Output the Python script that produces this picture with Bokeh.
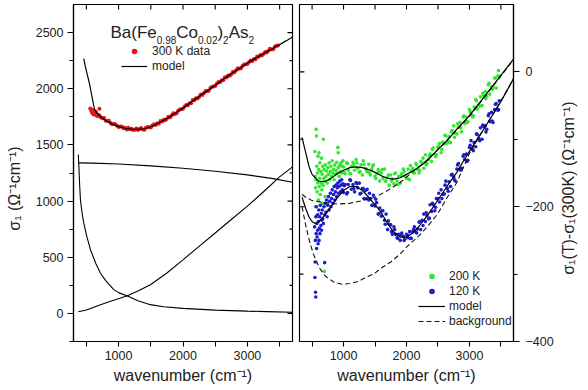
import math

from bokeh.core.properties import value
from bokeh.embed import file_html
from bokeh.layouts import row
from bokeh.models import ColumnDataSource, FixedTicker, Legend, LegendItem, Range1d
from bokeh.plotting import figure
from bokeh.resources import INLINE

FONT = "Liberation Sans"
INK = "#222222"
NBSP = "\u00a0"

# ---------------------------------------------------------------- data
# left panel: 300 K optical conductivity (cm^-1, Ohm^-1 cm^-1)
data300 = [
    (560, 1825), (575, 1805), (588, 1812), (590, 1785), (600, 1803), (612, 1770), (625, 1782),
    (640, 1800), (650, 1789), (660, 1760), (675, 1768), (685, 1755), (700, 1765), (703, 1822),
    (725, 1743), (750, 1737), (775, 1739), (800, 1716), (825, 1716), (850, 1716), (875, 1695),
    (900, 1683), (925, 1689), (950, 1684), (975, 1671), (1000, 1659), (1025, 1665), (1050, 1664),
    (1075, 1648), (1100, 1652), (1125, 1638), (1150, 1652), (1175, 1639), (1200, 1645), (1225, 1632),
    (1250, 1635), (1275, 1646), (1300, 1632), (1325, 1641), (1350, 1650), (1375, 1638), (1400, 1636),
    (1425, 1653), (1450, 1659), (1475, 1657), (1500, 1656), (1525, 1673), (1550, 1683), (1575, 1677),
    (1600, 1692), (1625, 1688), (1650, 1713), (1675, 1709), (1700, 1724), (1725, 1720), (1750, 1732),
    (1775, 1751), (1800, 1746), (1825, 1763), (1850, 1781), (1875, 1776), (1900, 1781), (1925, 1804),
    (1950, 1816), (1975, 1818), (2000, 1821), (2025, 1842), (2050, 1856), (2075, 1854), (2100, 1872),
    (2125, 1871), (2150, 1899), (2175, 1898), (2200, 1915), (2225, 1913), (2250, 1927), (2275, 1948),
    (2300, 1945), (2325, 1963), (2350, 1981), (2375, 1977), (2400, 1983), (2425, 2006), (2450, 2018),
    (2475, 2021), (2500, 2024), (2525, 2045), (2550, 2059), (2575, 2057), (2600, 2076), (2625, 2075),
    (2650, 2102), (2675, 2101), (2700, 2118), (2725, 2116), (2750, 2130), (2775, 2151), (2800, 2147),
    (2825, 2164), (2850, 2182), (2875, 2178), (2900, 2183), (2925, 2205), (2950, 2216), (2975, 2218),
    (3000, 2220), (3025, 2239), (3050, 2252), (3075, 2248), (3100, 2265), (3125, 2262), (3150, 2288),
    (3175, 2285), (3200, 2301), (3225, 2297), (3250, 2309), (3275, 2328), (3300, 2323), (3325, 2339),
    (3350, 2355), (3375, 2349), (3400, 2352), (3425, 2373), (3450, 2383), (3475, 2384),
]
model300 = [
    (460, 2268), (480, 2205), (500, 2160), (525, 2100), (548, 2046), (570, 1980), (590, 1920),
    (610, 1862), (626, 1818), (650, 1793), (680, 1772), (729, 1749), (800, 1718), (900, 1686),
    (1000, 1663), (1100, 1648), (1200, 1640), (1300, 1638), (1400, 1644), (1500, 1662), (1600, 1689),
    (1700, 1719), (1800, 1752), (1900, 1790), (2000, 1829), (2200, 1910), (2400, 1992), (2600, 2073),
    (2800, 2153), (3000, 2228), (3200, 2296), (3400, 2361), (3600, 2426), (3700, 2460),
]
# model components
comp_flat = [(380, 1340), (600, 1338), (1000, 1330), (1500, 1313), (2000, 1292), (2500, 1265),
             (3000, 1233), (3400, 1200), (3700, 1168)]
comp_decay = [(375, 1415), (385, 1290), (395, 1150), (408, 1009), (425, 930), (440, 868), (460, 803),
              (500, 700), (564, 565), (650, 440), (719, 358), (800, 292), (925, 212), (1000, 185),
              (1137, 155), (1300, 112), (1494, 78), (1700, 60), (2000, 45), (2500, 29), (3000, 20),
              (3300, 16), (3700, 11)]
comp_rise = [(375, 15), (500, 30), (719, 77), (900, 112), (1137, 157), (1300, 200), (1494, 255),
             (1750, 360), (2000, 477), (2250, 597), (2500, 716), (2750, 836), (3000, 955),
             (3250, 1083), (3500, 1215), (3700, 1305)]

# right panel: sigma_1(T) - sigma_1(300 K)
data200 = [
    (545, -118), (550, -155), (553, -200), (555, -172), (560, -160), (565, -85), (570, -95), (572, -215),
    (575, -140), (580, -178), (585, -150), (590, -165), (595, -125), (600, -190), (605, -145), (610, -120),
    (615, -170), (620, -158), (625, -135), (630, -182), (640, -148), (645, -165), (650, -128), (655, -175),
    (660, -152), (665, -195), (670, -140), (675, -168), (680, -100), (685, -158), (690, -145), (695, -296),
    (700, -162), (705, -185), (710, -138), (720, -155), (730, -147), (740, -165), (750, -142), (760, -152),
    (770, -135), (780, -160), (790, -148), (800, -140), (810, -155), (820, -132), (830, -150), (840, -145),
    (850, -160), (860, -138), (870, -152), (880, -146), (890, -134), (900, -150), (910, -112), (915, -120),
    (920, -142), (930, -155), (940, -138), (950, -148), (960, -135), (970, -150), (980, -140), (990, -132),
    (1000, -141), (1025, -151), (1050, -135), (1075, -146), (1100, -151), (1125, -140), (1150, -134),
    (1175, -146), (1200, -130), (1225, -143), (1250, -149), (1275, -138), (1300, -153), (1325, -137),
    (1350, -143), (1375, -148), (1400, -137), (1425, -153), (1450, -144), (1475, -138), (1500, -155),
    (1525, -151), (1550, -145), (1575, -162), (1600, -150), (1625, -158), (1650, -144), (1675, -162),
    (1700, -156), (1725, -168), (1750, -153), (1775, -159), (1800, -166), (1825, -150), (1850, -162),
    (1875, -155), (1900, -165), (1925, -151), (1950, -144), (1975, -155), (2000, -158), (2025, -144),
    (2050, -160), (2075, -147), (2100, -143), (2125, -150), (2150, -136), (2175, -145), (2200, -150),
    (2225, -133), (2250, -135), (2275, -143), (2300, -123), (2325, -136), (2350, -130), (2375, -122),
    (2400, -133), (2425, -113), (2450, -122), (2475, -123), (2500, -112), (2525, -106), (2550, -120),
    (2575, -104), (2600, -107), (2625, -95), (2650, -106), (2675, -96), (2700, -105), (2725, -87),
    (2750, -80), (2775, -91), (2800, -92), (2825, -82), (2850, -75), (2875, -89), (2900, -67),
    (2925, -77), (2950, -67), (2975, -74), (3000, -56), (3025, -62), (3050, -67), (3075, -52),
    (3100, -41), (3125, -55), (3150, -49), (3175, -37), (3200, -50), (3225, -35), (3250, -29),
    (3275, -36), (3300, -19), (3325, -33), (3350, -22), (3375, -23), (3400, -9), (3425, -24),
    (3450, -6), (3475, -6),
    (1012, -149), (1062, -136), (1112, -151), (1162, -138), (1212, -135), (1262, -148), (1312, -132),
    (1362, -146), (1412, -150), (1462, -140), (1512, -158), (1562, -148), (1612, -145), (1662, -162),
    (1712, -153), (1762, -162), (1812, -151), (1862, -167), (1912, -154), (1962, -148), (2012, -158),
    (2062, -139), (2112, -150), (2162, -138), (2212, -146), (2262, -128), (2312, -138), (2362, -125),
    (2412, -115), (2462, -126), (2512, -110), (2562, -115), (2612, -94), (2662, -103), (2712, -89),
    (2762, -97), (2812, -77), (2862, -83), (2912, -65), (2962, -75), (3012, -59), (3062, -65),
    (3112, -43), (3162, -51), (3212, -32), (3262, -40), (3312, -17), (3362, -26), (3412, -9), (3462, 2),
]
data120 = [
    (540, -230), (545, -305), (548, -282), (552, -250), (555, -327), (558, -334), (560, -215), (565, -240),
    (568, -200), (572, -262), (575, -225), (580, -245), (585, -212), (590, -235), (595, -255), (600, -222),
    (605, -205), (610, -250), (615, -232), (620, -215), (625, -240), (630, -198), (640, -228), (645, -210),
    (650, -235), (655, -220), (660, -205), (670, -218), (680, -225), (690, -200), (700, -283), (702, -212),
    (710, -195), (720, -208), (730, -190), (740, -215), (750, -198), (760, -185), (770, -205), (780, -192),
    (790, -180), (800, -200), (810, -188), (820, -175), (830, -195), (840, -182), (850, -170), (860, -190),
    (870, -178), (880, -168), (890, -185), (900, -172), (910, -165), (920, -180), (930, -170), (940, -162),
    (950, -178), (960, -168), (970, -160), (980, -175), (990, -166),
    (1000, -179), (1025, -167), (1050, -181), (1075, -167), (1100, -160), (1125, -174), (1150, -167),
    (1175, -178), (1200, -164), (1225, -172), (1250, -165), (1275, -180), (1300, -173), (1325, -188),
    (1350, -176), (1375, -174), (1400, -190), (1425, -188), (1450, -198), (1475, -183), (1500, -199),
    (1525, -194), (1550, -211), (1575, -202), (1600, -214), (1625, -206), (1650, -220), (1675, -211),
    (1700, -234), (1725, -226), (1750, -227), (1775, -241), (1800, -230), (1825, -241), (1850, -246),
    (1875, -241), (1900, -250), (1925, -239), (1950, -244), (1975, -248), (2000, -241), (2025, -246),
    (2050, -237), (2075, -247), (2100, -237), (2125, -230), (2150, -238), (2175, -233), (2200, -223),
    (2225, -234), (2250, -220), (2275, -211), (2300, -222), (2325, -213), (2350, -218), (2375, -197),
    (2400, -207), (2425, -197), (2450, -206), (2475, -188), (2500, -188), (2525, -193), (2550, -175),
    (2575, -182), (2600, -181), (2625, -162), (2650, -173), (2675, -163), (2700, -170), (2725, -152),
    (2750, -156), (2775, -162), (2800, -144), (2825, -136), (2850, -144), (2875, -143), (2900, -125),
    (2925, -130), (2950, -122), (2975, -131), (3000, -112), (3025, -102), (3050, -115), (3075, -105),
    (3100, -111), (3125, -93), (3150, -99), (3175, -83), (3200, -100), (3225, -81), (3250, -80),
    (3275, -85), (3300, -65), (3325, -74), (3350, -60), (3375, -75), (3400, -56), (3425, -47),
    (3450, -57), (3475, -43),
    (1012, -169), (1062, -179), (1112, -161), (1162, -173), (1212, -166), (1262, -181), (1312, -173),
    (1362, -188), (1412, -180), (1462, -198), (1512, -189), (1562, -210), (1612, -206), (1662, -226),
    (1712, -221), (1762, -237), (1812, -234), (1862, -247), (1912, -242), (1962, -250), (2012, -242),
    (2062, -247), (2112, -234), (2162, -239), (2212, -222), (2262, -228), (2312, -209), (2362, -217),
    (2412, -195), (2462, -201), (2512, -180), (2562, -188), (2612, -168), (2662, -177), (2712, -153),
    (2762, -160), (2812, -138), (2862, -146), (2912, -123), (2962, -133), (3012, -109), (3062, -117),
    (3112, -92), (3162, -102), (3212, -79), (3262, -89), (3312, -62), (3362, -73), (3412, -48), (3462, -56),
]
model200 = [(340, -97), (400, -120), (450, -140), (500, -152), (600, -162), (700, -163), (800, -158),
            (900, -151), (1000, -146), (1100, -142), (1200, -141), (1300, -142), (1400, -145),
            (1500, -149), (1600, -154), (1700, -158), (1800, -159), (1900, -157), (2000, -152),
            (2100, -147), (2200, -141), (2300, -134), (2400, -125), (2500, -115), (2600, -106),
            (2700, -96), (2800, -85), (2900, -75), (3000, -65), (3100, -53), (3200, -41), (3300, -29),
            (3400, -17), (3500, -5), (3600, 7), (3700, 19)]
model120 = [(340, -186), (400, -203), (450, -215), (500, -222), (550, -225), (600, -223), (700, -213),
            (800, -200), (900, -187), (1000, -176), (1100, -170), (1200, -170), (1300, -176),
            (1400, -186), (1500, -197), (1600, -209), (1700, -225), (1800, -238), (1900, -245),
            (2000, -245), (2100, -239), (2200, -229), (2300, -217), (2400, -204), (2500, -190),
            (2600, -176), (2700, -162), (2800, -149), (2900, -133), (3000, -118), (3100, -103),
            (3200, -89), (3300, -74), (3400, -59), (3500, -44), (3600, -27), (3700, -10)]
background200 = [(340, -182), (400, -186), (500, -191), (700, -194), (900, -196), (1100, -195),
                 (1300, -191), (1500, -186), (1700, -176), (1900, -164), (2100, -148), (2300, -133),
                 (2500, -115), (2750, -91), (3000, -66), (3250, -36), (3500, -6), (3700, 18)]
background120 = [(340, -200), (400, -228), (455, -250), (520, -270), (611, -290), (700, -302),
                 (767, -307), (850, -312), (973, -315), (1100, -314), (1233, -311), (1350, -305),
                 (1493, -299), (1600, -291), (1751, -282), (1900, -270), (2011, -259), (2200, -243),
                 (2337, -229), (2500, -210), (2648, -186), (2800, -164), (3000, -121), (3200, -89),
                 (3400, -59), (3600, -27), (3700, -10)]

x_ticks = [1000, 2000, 3000]
x_minor = [500, 1500, 2500, 3500]
left_y_ticks = [0, 500, 1000, 1500, 2000, 2500]
left_y_minor = [-250, 250, 750, 1250, 1750, 2250]
right_y_ticks = [-400, -200, 0]
right_y_minor = [-300, -100]

title_parts = ["Ba(Fe", "0.98", "Co", "0.02", ")", "2", "As", "2"]
title_is_sub = [False, True, False, True, False, True, False, True]

RED = "#e2171c"
GREEN = "#30e630"
BLUE = "#1d1dce"

FRAME_W, FRAME_H = 219, 337


def xs(pts):
    return [p[0] for p in pts]


def ys(pts):
    return [p[1] for p in pts]


def style_axis(ax, out, minor_out):
    ax.axis_line_color = "black"
    ax.axis_line_width = 1.2
    ax.major_tick_line_color = "black"
    ax.minor_tick_line_color = "black"
    ax.major_tick_line_width = 1.1
    ax.minor_tick_line_width = 1.1
    ax.major_tick_out = out
    ax.major_tick_in = 0
    ax.minor_tick_out = minor_out
    ax.minor_tick_in = 0
    ax.major_label_text_font = FONT
    ax.major_label_text_color = INK
    ax.major_label_text_font_size = "12.5px"
    ax.major_label_standoff = 4
    ax.axis_label_text_font = FONT
    ax.axis_label_text_font_style = "normal"
    ax.axis_label_text_color = INK
    ax.axis_label_text_font_size = "16px"


def make_fig(y_range, y_side, left_b, right_b, width):
    p = figure(width=width, height=390, x_range=Range1d(300, 3700), y_range=y_range,
               y_axis_location=y_side, output_backend="svg", toolbar_location=None,
               min_border_left=left_b, min_border_right=right_b, min_border_top=4,
               min_border_bottom=49)
    p.xgrid.visible = False
    p.ygrid.visible = False
    p.outline_line_color = "black"
    p.outline_line_width = 1.2
    p.background_fill_color = "white"
    p.border_fill_color = "white"
    return p


def inner_x_ticks(p, ticks, length_px):
    """Short inward ticks hanging from the top edge of the frame."""
    top = p.y_range.end
    dy = (p.y_range.end - p.y_range.start) / FRAME_H * length_px
    p.segment(x0=ticks, y0=[top] * len(ticks), x1=ticks, y1=[top - dy] * len(ticks),
              line_color="black", line_width=1.1)


def inner_y_ticks(p, ticks, length_px, side):
    """Short inward ticks on the frame edge opposite to the labelled y axis."""
    dx = (p.x_range.end - p.x_range.start) / FRAME_W * length_px
    if side == "right":
        x0, x1 = p.x_range.end, p.x_range.end - dx
    else:
        x0, x1 = p.x_range.start, p.x_range.start + dx
    p.segment(x0=[x0] * len(ticks), y0=ticks, x1=[x1] * len(ticks), y1=ticks,
              line_color="black", line_width=1.1)


def legend(items, loc, gw, standoff):
    return Legend(items=items, location=loc, padding=0, margin=0, spacing=1,
                  glyph_width=gw, glyph_height=14, label_height=14, label_standoff=standoff,
                  label_text_font=FONT, label_text_font_size="12px", label_text_color=INK,
                  background_fill_alpha=0, border_line_alpha=0)


# ---------------------------------------------------------------- left panel
left = make_fig(Range1d(-250, 2750), "left", 73, 3, 295)
bx = left.xaxis[0]
bx.ticker = FixedTicker(ticks=x_ticks, minor_ticks=x_minor)
bx.axis_label = "wavenumber (cm⁻¹)"
bx.axis_label_standoff = 4
style_axis(bx, 5, 5)
ly = left.yaxis[0]
ly.ticker = FixedTicker(ticks=left_y_ticks, minor_ticks=left_y_minor)
ly.axis_label = "σ₁ (Ω⁻¹cm⁻¹)" + NBSP * 7
ly.axis_label_standoff = 10
style_axis(ly, 6, 4)

inner_x_ticks(left, x_ticks + x_minor, 5)
inner_y_ticks(left, left_y_ticks, 5, "right")
inner_y_ticks(left, left_y_minor, 3, "right")

for comp in (comp_flat, comp_decay, comp_rise):
    left.line(xs(comp), ys(comp), line_color="black", line_width=1.1)
r_red = left.scatter(xs(data300), ys(data300), marker="circle", size=4,
                     fill_color=RED, line_color=None)
r_model300 = left.line(xs(model300), ys(model300), line_color="black", line_width=1.2)

# compound title with subscripts, laid out with Arial advance widths
adv = {"B": 667, "a": 556, "(": 333, "F": 611, "e": 556, "C": 722, "o": 556, ")": 333,
       "A": 667, "s": 500, ".": 278}
main_px, sub_px = 17, 10
x_off, offsets, sizes, y_offs = 37.0, [], [], []
for part, sub in zip(title_parts, title_is_sub):
    fs = sub_px if sub else main_px
    offsets.append(x_off)
    sizes.append(f"{fs}px")
    y_offs.append(35 if sub else 28)
    x_off += sum(adv.get(ch, 556) for ch in part) / 1000.0 * fs
title_src = ColumnDataSource(dict(x=[left.x_range.start] * len(title_parts),
                                  y=[left.y_range.end] * len(title_parts),
                                  text=title_parts, xo=offsets, yo=y_offs, fs=sizes))
left.text(x="x", y="y", text="text", x_offset="xo", y_offset="yo", text_font_size="fs",
          text_font=value(FONT), text_color=INK, text_align="left",
          text_baseline="alphabetic", source=title_src)

left.add_layout(legend([LegendItem(label="300 K data", renderers=[r_red]),
                        LegendItem(label="model", renderers=[r_model300])],
                       (48, 268), 26, 5))

# ---------------------------------------------------------------- right panel
right = make_fig(Range1d(-400, 100), "right", 4, 70, 293)
bx2 = right.xaxis[0]
bx2.ticker = FixedTicker(ticks=x_ticks, minor_ticks=x_minor)
bx2.axis_label = "wavenumber (cm⁻¹)"
bx2.axis_label_standoff = 4
style_axis(bx2, 5, 5)
ry = right.yaxis[0]
ry.ticker = FixedTicker(ticks=right_y_ticks, minor_ticks=right_y_minor)
style_axis(ry, 6, 4)
ry.major_label_standoff = 6
# y title reads bottom to top, like the one on the left panel; it grows
# upward from its anchor, so it is anchored at the lower end of the axis
ry.axis_label = NBSP * 15 + "σ₁(T)-σ₁(300K) (Ω⁻¹cm⁻¹)"
ry.axis_label_orientation = math.pi / 2
ry.axis_label_align = "start"
ry.axis_label_standoff = 12

inner_x_ticks(right, x_ticks + x_minor, 5)
inner_y_ticks(right, right_y_ticks, 5, "left")
inner_y_ticks(right, right_y_minor, 4, "left")

r_g = right.scatter(xs(data200), ys(data200), marker="circle", size=3.6,
                    fill_color=GREEN, line_color=None)
r_b = right.scatter(xs(data120), ys(data120), marker="circle", size=3.6,
                    fill_color=BLUE, line_color=None)
r_bg = right.line(xs(background200), ys(background200), line_color="#111111",
                  line_width=1.1, line_dash="5 3")
right.line(xs(background120), ys(background120), line_color="#111111",
           line_width=1.1, line_dash="5 3")
r_m = right.line(xs(model200), ys(model200), line_color="black", line_width=1.2)
right.line(xs(model120), ys(model120), line_color="black", line_width=1.2)

right.add_layout(legend([LegendItem(label="200 K", renderers=[r_g]),
                         LegendItem(label="120 K", renderers=[r_b]),
                         LegendItem(label="model", renderers=[r_m]),
                         LegendItem(label="background", renderers=[r_bg])],
                        (119, 13), 27, 4))

layout = row(left, right)
open("out.html", "w").write(file_html(layout, INLINE))
